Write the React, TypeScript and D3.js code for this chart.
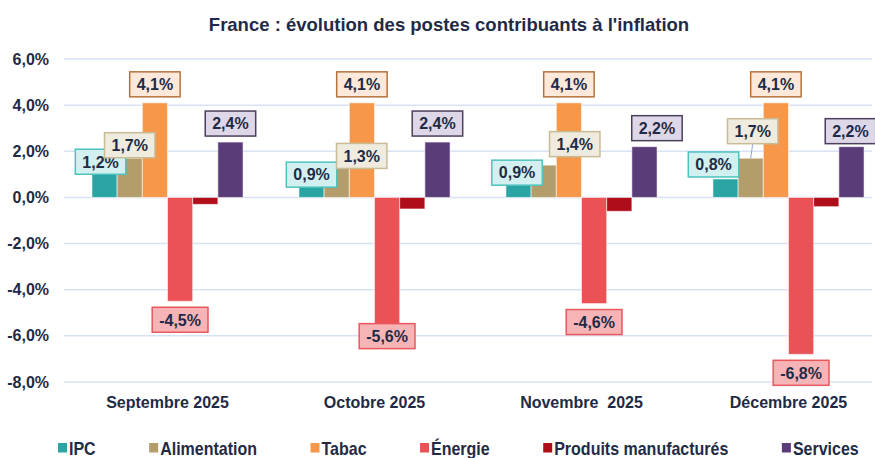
import React, { useEffect, useRef } from 'react';
import * as d3 from 'd3';

// Chart values
const months = ['Septembre 2025', 'Octobre 2025', 'Novembre  2025', 'Décembre 2025'];
const seriesNames = ['IPC', 'Alimentation', 'Tabac', 'Énergie', 'Produits manufacturés', 'Services'];
const ipc = [1.2, 0.9, 0.9, 0.8];
const alimentation = [1.7, 1.3, 1.4, 1.7];
const tabac = [4.1, 4.1, 4.1, 4.1];
const energie = [-4.5, -5.6, -4.6, -6.8];
const produits = [-0.3, -0.5, -0.6, -0.4];
const services = [2.4, 2.4, 2.2, 2.2];
const yTicks = [6, 4, 2, 0, -2, -4, -6, -8];

const seriesValues = [ipc, alimentation, tabac, energie, produits, services];
const barColors = ['#2ba5a4', '#b39e6b', '#f6974a', '#ea5256', '#b00d1b', '#5a3c79'];
const boxFill = ['#d3f0f0', '#efebdf', '#fde8d9', '#f6b4b6', null, '#ddd7e7'];
const boxStroke = ['#4ec2be', '#c8bb96', '#b4733d', '#e9585c', null, '#4c3e5e'];

// manual label moves (as in the original Excel chart), px: [series, month, dx, dy]
const labelNudges = [
  [0, 0, -4, 10.5], [1, 0, 0, 5.5],
  [0, 1, 0, 16.5], [1, 1, 25, 7], [3, 1, 0, -9],
  [0, 2, -1.5, 14.5], [1, 2, 31, -2.5], [5, 2, 12.5, 0],
  [0, 3, -12, 4], [1, 3, 2, -8.5], [5, 3, -1, 3],
];
// label with a leader line to its bar
const leaderLines = [[1, 3]];

const FONT = '"Liberation Sans", Arial, Helvetica, sans-serif';
const TEXT = '#1f2b46';

const fmt = (v: number) => `${v.toFixed(1).replace('.', ',')}%`;

function InflationChart() {
  const svgRef = useRef<SVGSVGElement>(null);

  useEffect(() => {
    const width = 875;
    const height = 458;
    const left = 64;
    const svg = d3.select(svgRef.current).attr('width', width).attr('height', height);
    svg.selectAll('*').remove();

    const y = d3.scaleLinear().domain([-8, 6]).range([382, 59]);
    const x0 = d3.scaleBand().domain(months).range([left, left + 828]).paddingInner(0.27).paddingOuter(0.135);
    const x1 = d3.scaleBand().domain(seriesNames).range([0, x0.bandwidth()]);

    // Title
    svg.append('text')
      .attr('x', 449).attr('y', 31)
      .attr('text-anchor', 'middle')
      .attr('font-family', FONT).attr('font-weight', 'bold').attr('font-size', '18.5px')
      .attr('fill', TEXT)
      .text("France : évolution des postes contribuants à l'inflation");

    // Grid lines
    svg.append('g').selectAll('line').data(yTicks).enter().append('line')
      .attr('x1', left).attr('x2', 872)
      .attr('y1', d => y(d)).attr('y2', d => y(d))
      .attr('stroke', '#d9e2f4').attr('stroke-width', 1.5);

    // Y tick labels
    svg.append('g').selectAll('text').data(yTicks).enter().append('text')
      .attr('x', 49).attr('y', d => y(d)).attr('dy', '0.35em')
      .attr('text-anchor', 'end')
      .attr('font-family', FONT).attr('font-weight', 'bold').attr('font-size', '16px')
      .attr('fill', TEXT)
      .text(d => fmt(d));

    // Bars
    const groups = svg.append('g').selectAll('g').data(months).enter().append('g')
      .attr('transform', d => `translate(${x0(d)},0)`);

    groups.each(function (m, mi) {
      const g = d3.select(this);
      seriesNames.forEach((s, si) => {
        const v = seriesValues[si][mi];
        g.append('rect')
          .attr('x', x1(s)!)
          .attr('width', x1.bandwidth())
          .attr('y', Math.min(y(v), y(0)))
          .attr('height', Math.abs(y(v) - y(0)))
          .attr('fill', barColors[si])
          .attr('stroke', 'rgba(255,255,255,0.55)')
          .attr('stroke-width', 1);
      });
    });

    // Category labels
    svg.append('g').selectAll('text').data(months).enter().append('text')
      .attr('x', d => x0(d)! + x0.bandwidth() / 2).attr('y', 408)
      .attr('text-anchor', 'middle')
      .style('white-space', 'pre')
      .attr('font-family', FONT).attr('font-weight', 'bold').attr('font-size', '16px')
      .attr('fill', TEXT)
      .text(d => d);

    // Data labels
    const labels = svg.append('g');
    months.forEach((m, mi) => {
      seriesNames.forEach((s, si) => {
        if (!boxFill[si]) return;
        const v = seriesValues[si][mi];
        const cx0 = x0(m)! + x1(s)! + x1.bandwidth() / 2;
        const cy0 = v >= 0 ? y(v) - 18.5 : y(v) + 18.5;
        const n = labelNudges.find(d => d[0] === si && d[1] === mi);
        const cx = cx0 + (n ? n[2] : 0);
        const cy = cy0 + (n ? n[3] : 0);

        if (leaderLines.some(d => d[0] === si && d[1] === mi)) {
          labels.append('line')
            .attr('x1', cx).attr('y1', cy + 12.5)
            .attr('x2', cx0).attr('y2', y(v))
            .attr('stroke', '#8eaadb').attr('stroke-width', 1);
        }

        const lg = labels.append('g');
        const rect = lg.append('rect');
        const t = lg.append('text')
          .attr('x', cx).attr('y', cy).attr('dy', '0.36em')
          .attr('text-anchor', 'middle')
          .attr('font-family', FONT).attr('font-weight', 'bold').attr('font-size', '16px')
          .attr('fill', TEXT)
          .text(fmt(v));
        const w = (t.node() as SVGTextElement).getComputedTextLength() + 14;
        rect.attr('x', cx - w / 2).attr('y', cy - 12.5)
          .attr('width', w).attr('height', 25)
          .attr('fill', boxFill[si]!)
          .attr('stroke', boxStroke[si]!)
          .attr('stroke-width', 1.5);
      });
    });

    // Legend (text a little taller than wide, like the original)
    const legend = svg.append('g');
    let lx = 58;
    seriesNames.forEach((s, si) => {
      legend.append('rect')
        .attr('x', lx).attr('y', 443).attr('width', 9).attr('height', 9.5)
        .attr('fill', barColors[si]);
      const t = legend.append('text')
        .attr('transform', `translate(${lx + 11},455) scale(1,1.13)`)
        .attr('font-family', FONT).attr('font-weight', 'bold').attr('font-size', '16px')
        .attr('fill', TEXT)
        .text(s);
      lx += 11 + (t.node() as SVGTextElement).getComputedTextLength() + 53.5;
    });
  }, []);

  return <svg ref={svgRef} style={{ display: 'block' }}></svg>;
}

export default function App() {
  useEffect(() => {
    document.body.style.margin = '0';
  }, []);
  return <InflationChart />;
}
